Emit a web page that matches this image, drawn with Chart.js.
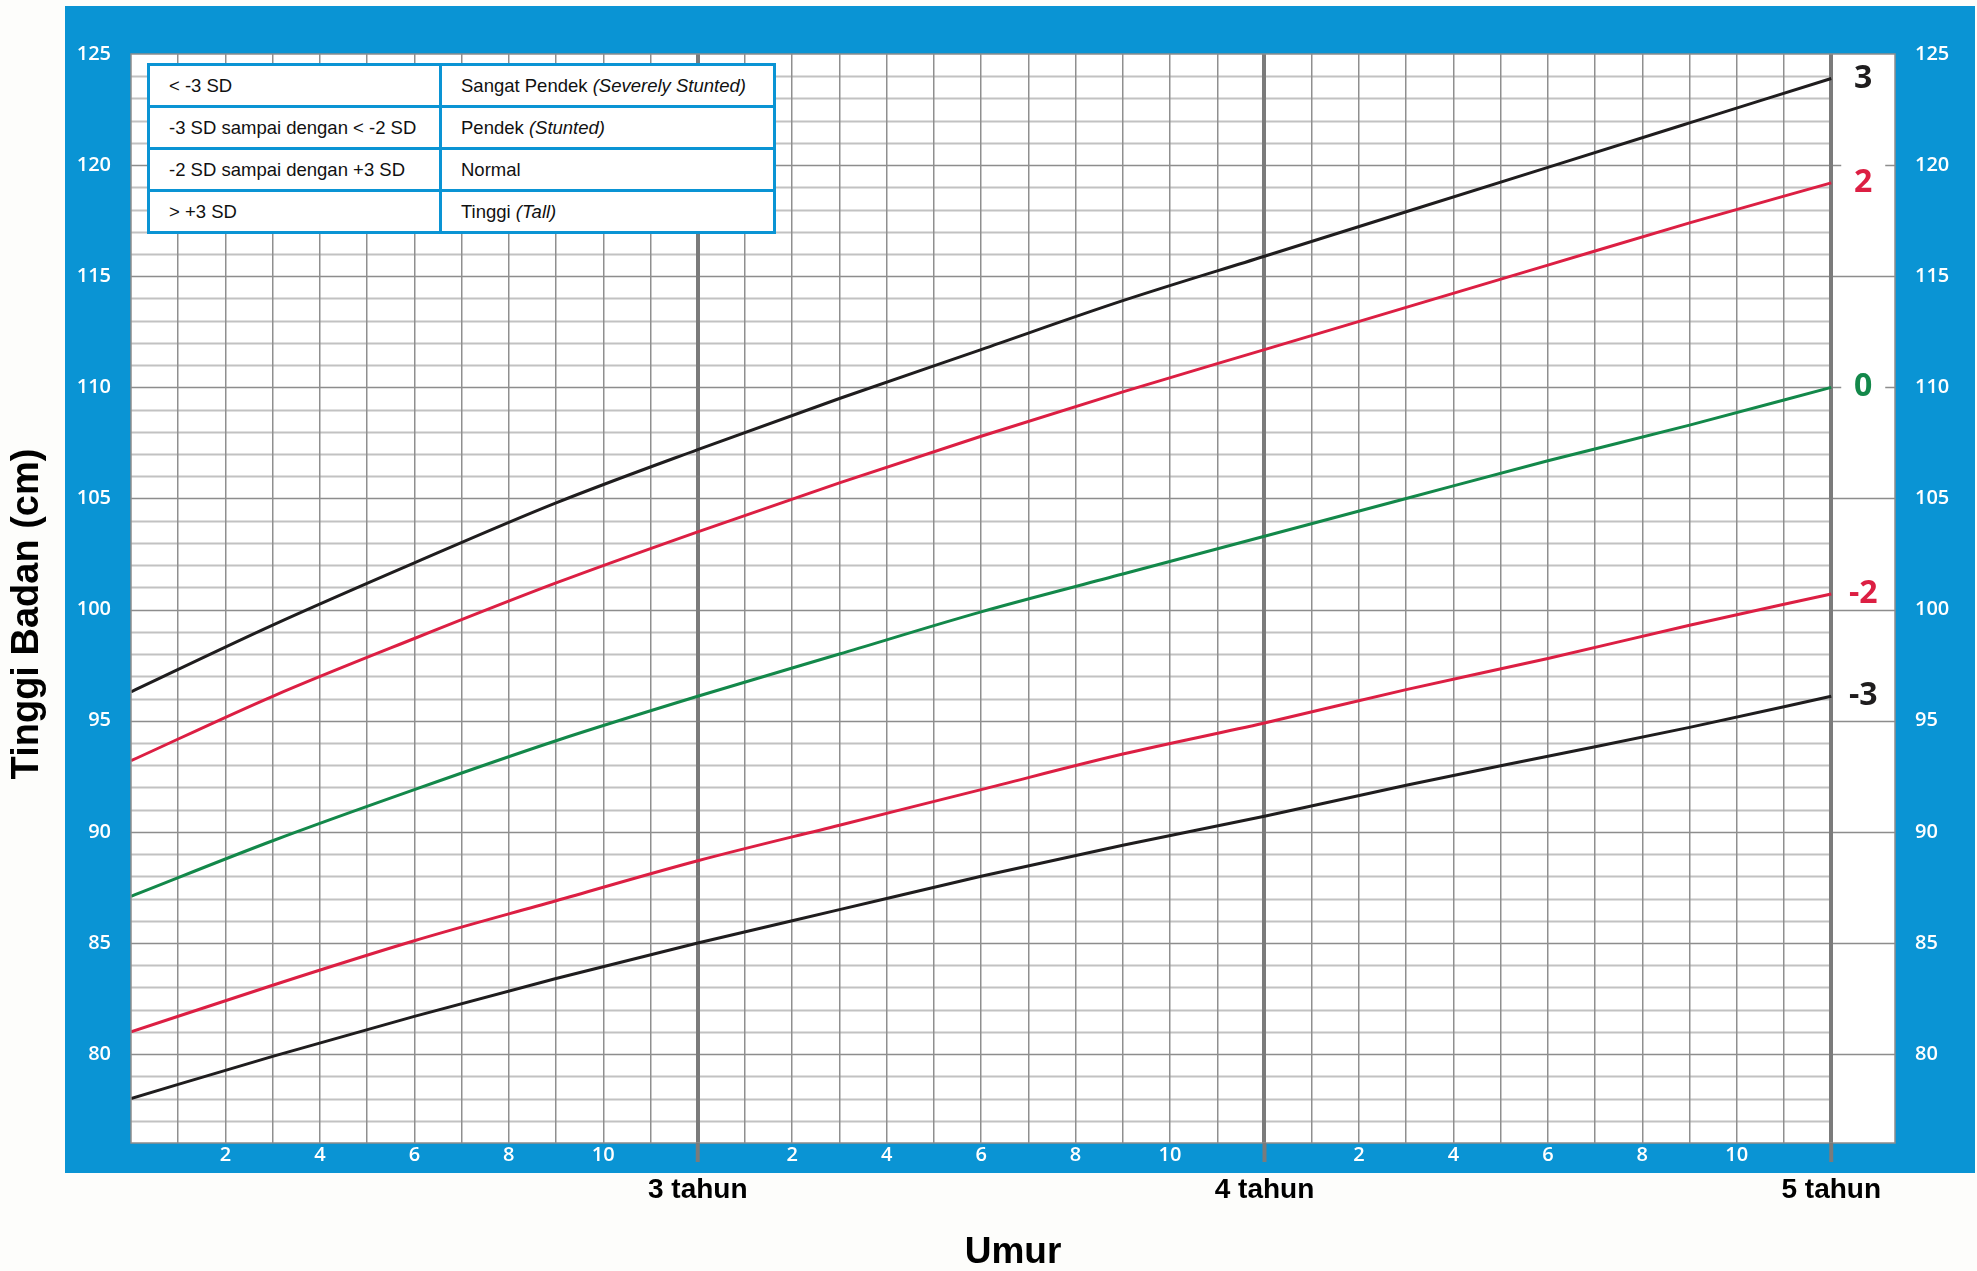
<!DOCTYPE html>
<html>
<head>
<meta charset="utf-8">
<script src="https://cdn.jsdelivr.net/npm/chart.js@4/dist/chart.umd.min.js"></script>
<style>
  body { margin: 0; background: #fdfdfb; }
  #wrap { position: relative; width: 1977px; height: 1271px; }
  #legendTable {
    position: absolute; left: 147px; top: 63px;
    border-collapse: collapse; table-layout: fixed; width: 629px;
    background: #fff; font-family: "Liberation Sans", Arial, sans-serif; font-size: 18.5px; color: #111;
  }
  #legendTable td { border: 3px solid #0a94d4; height: 39px; padding: 0 0 0 19px; white-space: nowrap; }
</style>
</head>
<body>
<div id="wrap">
  <canvas id="chart" width="1977" height="1271"></canvas>
  <table id="legendTable"><colgroup><col style="width:292px"><col></colgroup><tbody id="legendBody"></tbody></table>
</div>
<script>
// umur dalam bulan (24 - 60), tiap 3 bulan
var bulan = [24, 27, 30, 33, 36, 39, 42, 45, 48, 51, 54, 57, 60];
// tinggi badan (cm) per garis z-score
var sdPlus3  = [96.3, 99.3, 102.1, 104.8, 107.2, 109.5, 111.7, 113.9, 115.9, 117.9, 119.9, 121.9, 123.9];
var sdPlus2  = [93.2, 96.1, 98.7, 101.2, 103.5, 105.7, 107.8, 109.8, 111.7, 113.6, 115.5, 117.4, 119.2];
var median   = [87.1, 89.6, 91.9, 94.1, 96.1, 98.0, 99.9, 101.6, 103.3, 105.0, 106.7, 108.3, 110.0];
var sdMinus2 = [81.0, 83.1, 85.1, 86.9, 88.7, 90.3, 91.9, 93.5, 94.9, 96.4, 97.8, 99.3, 100.7];
var sdMinus3 = [78.0, 79.9, 81.7, 83.4, 85.0, 86.5, 88.0, 89.4, 90.7, 92.1, 93.4, 94.7, 96.1];

var garisLabel = ["3", "2", "0", "-2", "-3"];
var garisWarna = ["#1f1d1e", "#dc1f43", "#13884a", "#dc1f43", "#1f1d1e"];

var tahunTicks = [36, 48, 60];
var tahunLabel = ["3 tahun", "4 tahun", "5 tahun"];

var tabelSD = ["< -3 SD", "-3 SD sampai dengan < -2 SD", "-2 SD sampai dengan +3 SD", "> +3 SD"];
var tabelStatus = ["Sangat Pendek <i>(Severely Stunted)</i>", "Pendek <i>(Stunted)</i>", "Normal", "Tinggi <i>(Tall)</i>"];

var judulY = "Tinggi Badan (cm)";
var judulX = "Umur";

var BIRU = "#0a94d4";
var angkaFont = '"Open Sans", "DejaVu Sans", sans-serif';
var judulFont = '"Liberation Sans", Arial, sans-serif';

// tabel keterangan
var body = document.getElementById("legendBody");
for (var i = 0; i < tabelSD.length; i++) {
    var tr = document.createElement("tr");
    tr.innerHTML = "<td>" + tabelSD[i].replace(/</g, "&lt;").replace(/>/g, "&gt;") + "</td><td>" + tabelStatus[i] + "</td>";
    body.appendChild(tr);
}

function titik(arr) {
    return arr.map(function (v, i) { return { x: bulan[i], y: v }; });
}

var seri = [sdPlus3, sdPlus2, median, sdMinus2, sdMinus3];

var bingkai = {
    id: 'bingkai',
    beforeDraw: function (chart) {
        var ctx = chart.ctx, a = chart.chartArea, x = chart.scales.x, y = chart.scales.y;
        ctx.save();
        ctx.fillStyle = '#fdfdfb';
        ctx.fillRect(0, 0, chart.width, chart.height);
        ctx.fillStyle = BIRU;
        ctx.fillRect(65, 6, chart.width - 67, x.bottom - 6);
        ctx.fillStyle = '#ffffff';
        ctx.fillRect(a.left, a.top, a.right - a.left, a.bottom - a.top);
        var ujung = x.getPixelForValue(60);
        for (var v = Math.ceil(y.min) + 1; v < y.max; v++) {
            var py = Math.round(y.getPixelForValue(v)) + 0.5;
            ctx.beginPath();
            if (v % 5 === 0) {
                ctx.strokeStyle = '#8d8d8d';
                ctx.lineWidth = 1.5;
                ctx.moveTo(a.left, py); ctx.lineTo(a.right, py);
            } else {
                ctx.strokeStyle = '#c2c2c2';
                ctx.lineWidth = 2;
                ctx.moveTo(a.left, py); ctx.lineTo(ujung, py);
            }
            ctx.stroke();
        }
        ctx.restore();
    },
    afterDraw: function (chart) {
        var ctx = chart.ctx, a = chart.chartArea, x = chart.scales.x, y = chart.scales.y;
        ctx.save();
        // garis tepi area grafik
        ctx.strokeStyle = '#8d8d8d';
        ctx.lineWidth = 1.5;
        ctx.strokeRect(a.left, a.top, a.right - a.left, a.bottom - a.top);
        // tanda tahun di bawah grafik
        ctx.strokeStyle = '#7b7b7b';
        ctx.lineWidth = 4;
        tahunTicks.forEach(function (t) {
            var px = x.getPixelForValue(t);
            ctx.beginPath(); ctx.moveTo(px, a.bottom); ctx.lineTo(px, a.bottom + 19); ctx.stroke();
        });
        // label z-score di ujung garis
        ctx.font = '700 32px ' + angkaFont;
        ctx.textAlign = 'center';
        ctx.textBaseline = 'middle';
        var lx = x.getPixelForValue(60) + 32;
        seri.forEach(function (s, i) {
            var py = y.getPixelForValue(s[s.length - 1]);
            ctx.fillStyle = '#ffffff';
            ctx.fillRect(lx - 22, py - 20, 44, 33);
            ctx.fillStyle = garisWarna[i];
            ctx.fillText(garisLabel[i], lx, py);
        });
        // judul sumbu Y
        ctx.translate(28, 614);
        ctx.rotate(-Math.PI / 2);
        ctx.font = 'bold 38px ' + judulFont;
        ctx.fillStyle = '#000000';
        ctx.fillText(judulY, 0, 0);
        ctx.restore();
    }
};

var chart = new Chart(document.getElementById("chart"), {
    type: 'line',
    data: {
        datasets: seri.map(function (s, i) {
            return {
                label: garisLabel[i],
                data: titik(s),
                borderColor: garisWarna[i],
                borderWidth: 3,
                pointRadius: 0,
                cubicInterpolationMode: 'monotone',
                fill: false
            };
        })
    },
    options: {
        responsive: false,
        animation: false,
        layout: { padding: { left: 2, top: 54, right: 2, bottom: 0 } },
        plugins: { legend: { display: false }, tooltip: { enabled: false } },
        scales: {
            x: {
                type: 'linear', position: 'bottom', min: 24, max: 61.35,
                afterBuildTicks: function (s) {
                    s.ticks = s.ticks.filter(function (t) { return Number.isInteger(t.value) && t.value > 24 && t.value <= 60; });
                },
                afterFit: function (s) { s.height = 30; },
                ticks: {
                    stepSize: 1, autoSkip: false, maxRotation: 0, padding: 0,
                    color: '#ffffff', font: { family: angkaFont, size: 20, weight: '600' },
                    callback: function (v) {
                        var r = (v - 24) % 12;
                        return (r !== 0 && r % 2 === 0) ? String(r) : '';
                    }
                },
                grid: {
                    drawTicks: false,
                    color: function (c) { return tahunTicks.indexOf(c.tick.value) >= 0 ? '#7b7b7b' : '#8f8f8f'; },
                    lineWidth: function (c) { return tahunTicks.indexOf(c.tick.value) >= 0 ? 4 : 1.5; }
                },
                border: { display: false }
            },
            x2: {
                type: 'linear', position: 'bottom', min: 24, max: 61.35,
                afterBuildTicks: function (s) { s.ticks = tahunTicks.map(function (t) { return { value: t }; }); },
                afterFit: function (s) { s.height = 98; },
                ticks: {
                    autoSkip: false, maxRotation: 0, padding: 0, color: '#000000',
                    font: { family: judulFont, size: 28, weight: 'bold' },
                    callback: function (v) { return tahunLabel[tahunTicks.indexOf(v)]; }
                },
                grid: { display: false, drawTicks: false },
                border: { display: false },
                title: {
                    display: true, text: judulX, color: '#000000',
                    font: { family: judulFont, size: 37, weight: 'bold', lineHeight: 1 },
                    padding: { top: 0, bottom: 0 }
                }
            },
            y: {
                type: 'linear', position: 'left', min: 76, max: 125,
                afterBuildTicks: function (s) { s.ticks = s.ticks.filter(function (t) { return t.value % 5 === 0; }); },
                afterFit: function (s) { s.width = 129; },
                ticks: { stepSize: 5, padding: 20, color: '#ffffff', font: { family: angkaFont, size: 20, weight: '600' } },
                grid: { display: false, drawTicks: false },
                border: { display: false }
            },
            y2: {
                type: 'linear', position: 'right', min: 76, max: 125,
                afterBuildTicks: function (s) { s.ticks = s.ticks.filter(function (t) { return t.value % 5 === 0; }); },
                afterFit: function (s) { s.width = 80; },
                ticks: { stepSize: 5, padding: 20, color: '#ffffff', font: { family: angkaFont, size: 20, weight: '600' } },
                grid: { display: false, drawTicks: false },
                border: { display: false }
            }
        }
    },
    plugins: [bingkai]
});
</script>
</body>
</html>
